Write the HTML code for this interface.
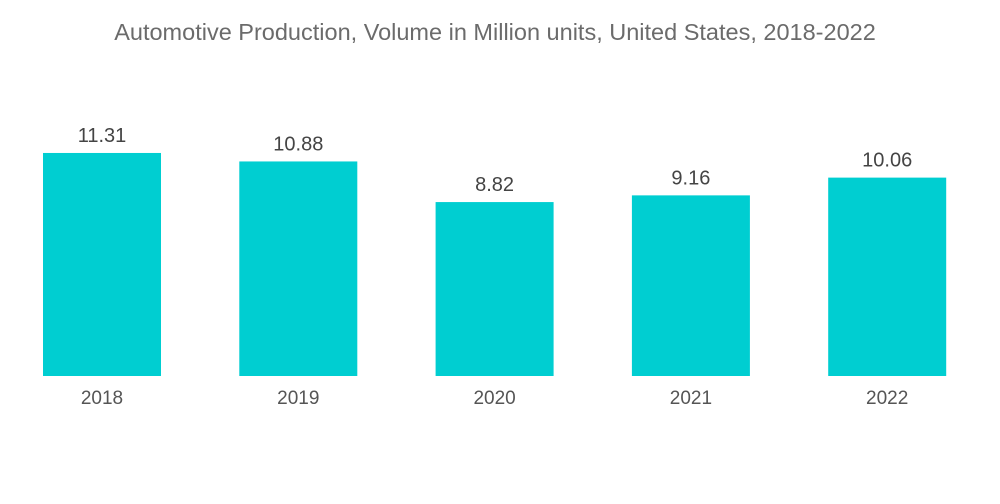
<!DOCTYPE html>
<html><head><meta charset="utf-8"><style>
html,body{margin:0;padding:0;background:#fff;}
svg{display:block;font-family:"Liberation Sans",sans-serif;}
</style></head><body>
<svg id="chart" width="1000" height="504">
<text x="495" y="40" text-anchor="middle" font-size="23.5" fill="#6b6b6b">Automotive Production, Volume in Million units, United States, 2018-2022</text>
<g id="bars"></g>
</svg>
<script>
const categories = ["2018","2019","2020","2021","2022"];
const values = [11.31, 10.88, 8.82, 9.16, 10.06];
const labels = ["11.31","10.88","8.82","9.16","10.06"];

const baseY = 376, pxPerUnit = 19.72, x0 = 43, pitch = 196.3, barW = 118;
const yScale = v => baseY - v * pxPerUnit;
const xScale = i => x0 + i * pitch;
const ns = "http://www.w3.org/2000/svg";
const g = document.getElementById("bars");
categories.forEach((c, i) => {
  const x = xScale(i), y = yScale(values[i]);
  const r = document.createElementNS(ns, "rect");
  r.setAttribute("x", x); r.setAttribute("y", y);
  r.setAttribute("width", barW); r.setAttribute("height", baseY - y);
  r.setAttribute("fill", "#00ced1");
  
  
  g.appendChild(r);
  const t = document.createElementNS(ns, "text");
  t.setAttribute("x", x + barW / 2); t.setAttribute("y", y - 11);
  t.setAttribute("text-anchor", "middle"); t.setAttribute("font-size", "20");
  t.setAttribute("fill", "#444");
  t.textContent = labels[i];
  
  
  g.appendChild(t);
  const a = document.createElementNS(ns, "text");
  a.setAttribute("x", x + barW / 2); a.setAttribute("y", 404);
  a.setAttribute("text-anchor", "middle"); a.setAttribute("font-size", "19");
  a.setAttribute("fill", "#555");
  a.textContent = c;
  
  
  g.appendChild(a);
});
</script>
</body></html>
